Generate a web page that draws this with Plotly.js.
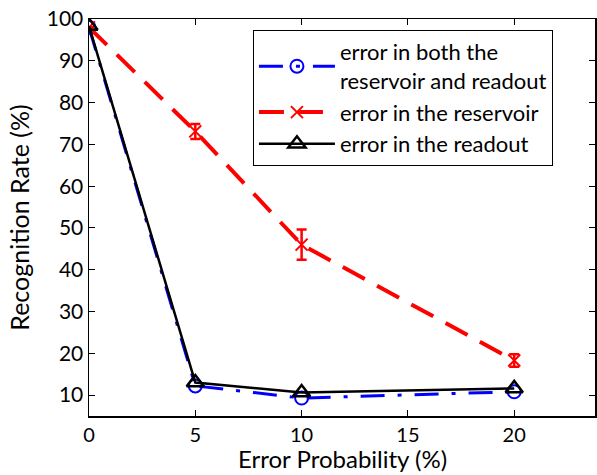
<!DOCTYPE html>
<html>
<head>
<meta charset="utf-8">
<script src="https://cdn.plot.ly/plotly-3.0.1.min.js"></script>
<style>html,body{margin:0;padding:0;background:#fff;}#chart{width:597px;height:475px;}</style>
</head>
<body>
<div id="chart"></div>
<script>
const errorProb = [0, 5, 10, 20];
const bothRate = [98, 12.2, 9.3, 10.8];
const reservoirRate = [98, 73.1, 46.0, 18.3];
const reservoirErr = [0, 1.8, 3.6, 1.5];
const readoutRate = [98.3, 13.0, 10.6, 11.6];
const xTicks = [0, 5, 10, 15, 20];
const yTicks = [10, 20, 30, 40, 50, 60, 70, 80, 90, 100];
const seriesNames = ['error in both the<br>reservoir and readout', 'error in the reservoir', 'error in the readout'];
const xTitle = 'Error Probability (%)';
const yTitle = 'Recognition Rate (%)';

const traces = [
  {
    x: errorProb, y: bothRate, name: seriesNames[0], type: 'scatter', mode: 'lines+markers',
    line: {color: '#0000ff', width: 3, dash: '24px,13px,4px,13px'},
    marker: {symbol: 'circle-open', size: 13, color: '#0000ff', line: {width: 2, color: '#0000ff'}}
  },
  {
    x: errorProb, y: reservoirRate, name: seriesNames[1], type: 'scatter', mode: 'lines+markers',
    line: {color: '#ff0000', width: 4, dash: '25px,14px'},
    marker: {symbol: 'x-thin-open', size: 12, color: '#ff0000', line: {width: 2, color: '#ff0000'}},
    error_y: {type: 'data', array: reservoirErr, visible: true, color: '#ff0000', thickness: 2.5, width: 5}
  },
  {
    x: errorProb, y: readoutRate, name: seriesNames[2], type: 'scatter', mode: 'lines+markers',
    line: {color: '#000000', width: 2.5},
    marker: {symbol: 'triangle-up-open', size: 15, color: '#000000', line: {width: 2.5, color: '#000000'}}
  }
];

const font = 'Lato, "Open Sans", sans-serif';
const layout = {
  width: 597, height: 475,
  margin: {l: 89, r: 2, t: 19, b: 59},
  paper_bgcolor: '#fff', plot_bgcolor: '#fff',
  font: {family: font, color: '#000', size: 21},
  showlegend: true,
  legend: {
    x: 0.324, y: 0.972, xanchor: 'left', yanchor: 'top',
    bordercolor: '#000', borderwidth: 1, bgcolor: '#fff',
    font: {family: font, size: 22, color: '#000'},
    itemwidth: 76, tracegroupgap: 0
  },
  xaxis: {
    range: [0, 23.8], tickvals: xTicks, ticktext: xTicks.map(String),
    ticks: 'inside', ticklen: 6, tickcolor: '#000', tickwidth: 1,
    showline: true, linecolor: '#000', linewidth: 1.5, mirror: 'ticks',
    showgrid: false, zeroline: false,
    tickfont: {size: 20}
  },
  yaxis: {
    range: [5, 100], tickvals: yTicks, ticktext: yTicks.map(String),
    ticks: 'inside', ticklen: 6, tickcolor: '#000', tickwidth: 1,
    showline: true, linecolor: '#000', linewidth: 1.5, mirror: 'ticks',
    showgrid: false, zeroline: false,
    tickfont: {size: 21},
    title: {text: yTitle, font: {size: 25}, standoff: 10}
  },
  annotations: [{
    text: xTitle, xref: 'paper', yref: 'paper', x: 0.5, y: -0.146,
    xanchor: 'center', yanchor: 'bottom', showarrow: false, borderpad: 0,
    font: {family: font, size: 24, color: '#000'}
  }]
};

Plotly.newPlot('chart', traces, layout, {displayModeBar: false, staticPlot: true});
</script>
</body>
</html>
